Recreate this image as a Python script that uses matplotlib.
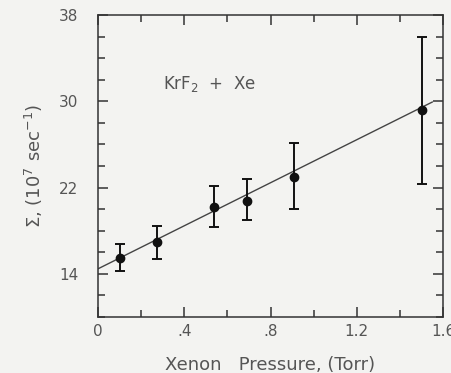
import matplotlib

matplotlib.use("Agg")

import matplotlib.pyplot as plt
import numpy as np
from matplotlib.ticker import FixedLocator, MultipleLocator

# data
pressure = [0.102, 0.272, 0.538, 0.693, 0.909, 1.503]
sigma = [15.5, 17.0, 20.2, 20.8, 23.0, 29.2]
err_low = [14.25, 15.4, 18.35, 18.95, 20.0, 22.3]
err_high = [16.8, 18.4, 22.15, 22.8, 26.15, 35.95]

fit_x = [0.0, 1.55]
fit_intercept = 14.47
fit_slope = 9.97

x_ticks = [0, 0.4, 0.8, 1.2, 1.6]
x_tick_labels = ["0", ".4", ".8", "1.2", "1.6"]
y_ticks = [14, 22, 30, 38]

BG = "#f3f3f1"
INK = "#333333"
TEXT = "#555555"

plt.rcParams["font.family"] = ["DejaVu Sans"]

fig = plt.figure(figsize=(4.51, 3.73), dpi=100, facecolor=BG)
ax = fig.add_axes([0.2173, 0.150, 0.765, 0.810])
ax.set_facecolor(BG)

sig = np.array(sigma)
yerr = [sig - np.array(err_low), np.array(err_high) - sig]
ax.errorbar(pressure, sigma, yerr=yerr, fmt="o", color="#111111",
            markersize=6, elinewidth=1.4, capsize=3.5, capthick=1.4, zorder=3)

fx = np.array(fit_x)
ax.plot(fx, fit_intercept + fit_slope * fx, color="#444444", linewidth=1.0, zorder=2)

ax.text(0.30, 31.1, "KrF$_2$  +  Xe", fontsize=12, color=TEXT)

ax.set_xlim(0, 1.6)
ax.set_ylim(10, 38)
ax.xaxis.set_major_locator(FixedLocator(x_ticks))
ax.set_xticklabels(x_tick_labels)
ax.xaxis.set_minor_locator(MultipleLocator(0.2))
ax.yaxis.set_major_locator(FixedLocator(y_ticks))
ax.yaxis.set_minor_locator(MultipleLocator(2))

ax.tick_params(which="both", direction="in", top=True, right=True,
               color=INK, width=1.1, labelsize=11, labelcolor=TEXT)
ax.tick_params(axis="x", pad=5)
ax.tick_params(axis="y", pad=14)
ax.tick_params(which="major", length=7)
ax.tick_params(which="minor", length=5)
for sp in ax.spines.values():
    sp.set_color(INK)
    sp.set_linewidth(1.1)

ax.set_xlabel("Xenon   Pressure, (Torr)", fontsize=13, color=TEXT, labelpad=12)
ax.set_ylabel("$\\Sigma$, (10$^7$ sec$^{-1}$)", fontsize=13, color=TEXT, labelpad=10)

fig.savefig("out.png", dpi=100, facecolor=BG)
